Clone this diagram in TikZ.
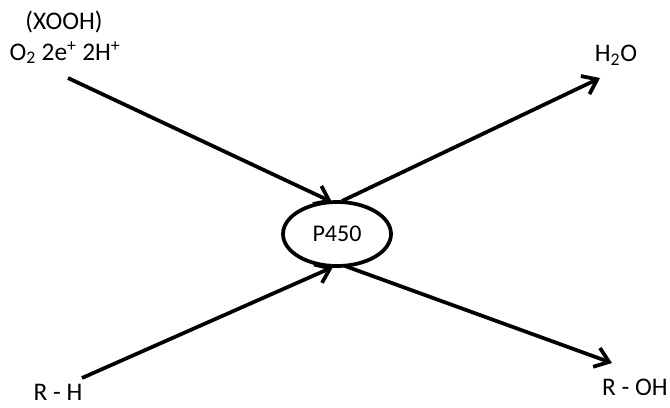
\documentclass[tikz,border=0pt]{standalone}
\usepackage{fontspec}
\setmainfont{Carlito}
\usetikzlibrary{arrows.meta,shapes.geometric}
\begin{document}
\begin{tikzpicture}[x=0.75pt,y=-0.75pt,
  lbl/.style={inner sep=0pt,font=\fontsize{19}{22}\selectfont},
  arr/.style={line width=2.8pt,-{Straight Barb[length=10pt,width=15pt,line width=2.8pt]}}]
\useasboundingbox (0,0) rectangle (670,407);
\node[ellipse,draw,line width=2.8pt,minimum width=81pt,minimum height=48pt,inner sep=0pt,font=\fontsize{18}{20}\selectfont] (p) at (337,234) {P450};
\node[lbl] (x) at (64,22) {(XOOH)};
\node[lbl] (o) at (65,53) {O\textsubscript{2} 2e\textsuperscript{+} 2H\textsuperscript{+}};
\node[lbl] (w) at (616,55) {H\textsubscript{2}O};
\node[lbl] (rh) at (58,392) {R - H};
\node[lbl] (roh) at (635,387) {R - OH};
\coordinate (a1) at (68,78);
\coordinate (a2) at (332,202);
\coordinate (b1) at (342,201);
\coordinate (b2) at (600,78);
\coordinate (c1) at (82,378);
\coordinate (c2) at (333,267);
\coordinate (d1) at (345,266);
\coordinate (d2) at (612,363);
\draw[arr] (a1) -- (a2);
\draw[arr] (b1) -- (b2);
\draw[arr] (c1) -- (c2);
\draw[arr] (d1) -- (d2);
\end{tikzpicture}
\end{document}
